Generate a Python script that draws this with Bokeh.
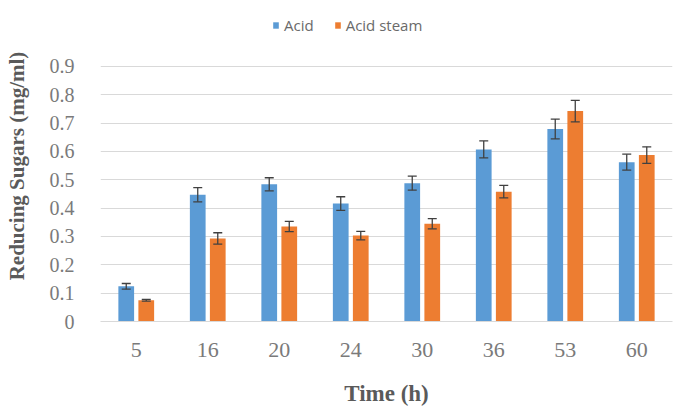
from bokeh.plotting import figure
from bokeh.models import ColumnDataSource, FactorRange, Range1d, Whisker, TeeHead, Legend, LegendItem, FixedTicker
from bokeh.transform import dodge
from bokeh.embed import file_html
from bokeh.resources import INLINE

times = ["5", "16", "20", "24", "30", "36", "53", "60"]
acid = [0.124, 0.447, 0.484, 0.416, 0.488, 0.607, 0.679, 0.562]
acid_err = [0.010, 0.025, 0.023, 0.024, 0.025, 0.030, 0.035, 0.028]
steam = [0.075, 0.293, 0.335, 0.303, 0.345, 0.458, 0.742, 0.587]
steam_err = [0.003, 0.020, 0.018, 0.015, 0.018, 0.022, 0.038, 0.029]
y_ticks = [0, 0.1, 0.2, 0.3, 0.4, 0.5, 0.6, 0.7, 0.8, 0.9]

BLUE = "#5B9BD5"
ORANGE = "#ED7D31"

src = ColumnDataSource(dict(
    t=times, acid=acid, steam=steam,
    acid_lo=[v - e for v, e in zip(acid, acid_err)],
    acid_hi=[v + e for v, e in zip(acid, acid_err)],
    steam_lo=[v - e for v, e in zip(steam, steam_err)],
    steam_hi=[v + e for v, e in zip(steam, steam_err)],
))

# frame spans from 10px to 322px; the 0.9 gridline falls at 66px (space above holds the legend)
y_top = 0.9 * 312 / 256

p = figure(width=675, height=408, x_range=FactorRange(*times, range_padding=0),
           y_range=Range1d(0, y_top), output_backend="svg", toolbar_location=None,
           min_border_left=100, min_border_right=3, min_border_top=10, min_border_bottom=86)
p.outline_line_color = None
p.background_fill_color = "white"

r1 = p.vbar(x=dodge("t", -0.14, range=p.x_range), top="acid", width=0.22, source=src,
            fill_color=BLUE, line_color=None)
r2 = p.vbar(x=dodge("t", 0.14, range=p.x_range), top="steam", width=0.22, source=src,
            fill_color=ORANGE, line_color=None)

for base, lo, hi in [(-0.14, "acid_lo", "acid_hi"), (0.14, "steam_lo", "steam_hi")]:
    w = Whisker(base=dodge("t", base, range=p.x_range), lower=lo, upper=hi, source=src,
                line_color="#404040", line_width=1.3, level="overlay",
                upper_head=TeeHead(size=9, line_color="#404040", line_width=1.3),
                lower_head=TeeHead(size=9, line_color="#404040", line_width=1.3))
    p.add_layout(w)

p.yaxis.ticker = FixedTicker(ticks=y_ticks)
p.yaxis.major_label_overrides = {0: "0"}
p.ygrid.grid_line_color = "#D9D9D9"
p.xgrid.grid_line_color = None
p.yaxis.axis_line_color = None
p.yaxis.major_tick_line_color = None
p.yaxis.minor_tick_line_color = None
p.xaxis.axis_line_color = "#D9D9D9"
p.xaxis.major_tick_line_color = None
p.xaxis.minor_tick_line_color = None

for ax in (p.xaxis, p.yaxis):
    ax.major_label_text_font = "Liberation Serif"
    ax.major_label_text_color = "#7a7a7a"
    ax.axis_label_text_font = "Liberation Serif"
    ax.axis_label_text_font_style = "bold"
    ax.axis_label_text_color = "#5a5a5a"

p.yaxis.major_label_text_font_size = "20px"
p.xaxis.major_label_text_font_size = "22px"
p.yaxis.major_label_standoff = 20
p.xaxis.major_label_standoff = 15
p.yaxis.axis_label = "Reducing Sugars (mg/ml)"
p.xaxis.axis_label = "Time (h)"
p.yaxis.axis_label_text_font_size = "21px"
p.xaxis.axis_label_text_font_size = "23px"
p.yaxis.axis_label_standoff = 18
p.xaxis.axis_label_standoff = 21

legend = Legend(items=[LegendItem(label="Acid", renderers=[r1]),
                       LegendItem(label="Acid steam", renderers=[r2])],
                orientation="horizontal", location=(172, 286),
                background_fill_alpha=0, border_line_color=None,
                padding=0, margin=0, spacing=20,
                glyph_width=7, glyph_height=8, label_standoff=5,
                label_text_font="Open Sans", label_text_font_size="15px",
                label_text_color="#6a6a6a")
p.add_layout(legend, "center")

open("out.html", "w").write(file_html(p, INLINE))
